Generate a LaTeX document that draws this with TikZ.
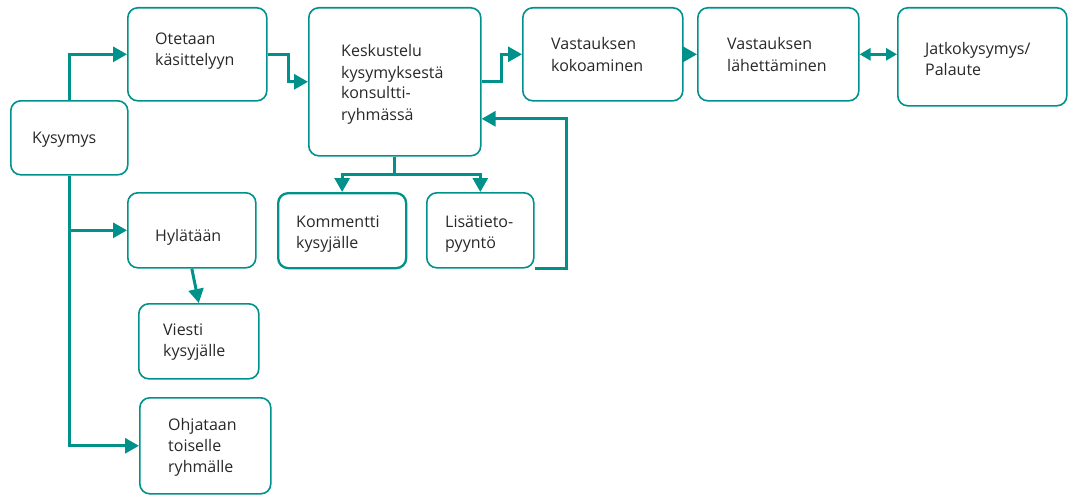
\documentclass[tikz,border=0pt]{standalone}
\usepackage{fontspec}
\setmainfont{Open Sans}
\usetikzlibrary{arrows.meta,calc}
\definecolor{teal}{RGB}{0,146,138}
\definecolor{txtgray}{RGB}{40,40,40}
\tikzset{
  box/.style={draw=teal, line width=1.6pt, rounded corners=10pt, inner sep=0pt, anchor=north west},
  boxthick/.style={box, line width=2.3pt},
  txt/.style={anchor=base west, inner sep=0pt, align=left, text=txtgray, font=\fontsize{16}{21}\selectfont},
  arr/.style={draw=teal, line width=3pt, -{Triangle[length=14pt,width=15pt]}},
  darr/.style={draw=teal, line width=3pt, {Triangle[length=11pt,width=12pt]}-{Triangle[length=11pt,width=12pt]}},
}
\begin{document}
\begin{tikzpicture}[x=1pt,y=-1pt]
\useasboundingbox (0,0) rectangle (1068,495);
% boxes
\node[box, minimum width=117pt, minimum height=74pt] (kys) at (10,100) {};
\node[box, minimum width=139pt, minimum height=93pt] (ote) at (127,7) {};
\node[box, minimum width=172pt, minimum height=148pt] (kes) at (308,7) {};
\node[box, minimum width=160pt, minimum height=93pt] (kok) at (522,7) {};
\node[box, minimum width=161pt, minimum height=93pt] (lah) at (697,7) {};
\node[box, minimum width=169pt, minimum height=98pt] (jat) at (897,7) {};
\node[boxthick, minimum width=128pt, minimum height=75pt] (kom) at (277,192) {};
\node[box, minimum width=107pt, minimum height=75pt] (lis) at (426,192) {};
\node[box, minimum width=128pt, minimum height=75pt] (hyl) at (127,192) {};
\node[box, minimum width=120pt, minimum height=75pt] (vie) at (138,303) {};
\node[box, minimum width=131pt, minimum height=96pt] (ohj) at (139,397) {};
% texts (base = baseline of last line)
\node[txt] (kys-t) at (32,143) {Kysymys};
\node[txt] (ote-t) at (155,66) {Otetaan\\käsittelyyn};
\node[txt] (kes-t) at (341,120) {Keskustelu\\kysymyksestä\\konsultti-\\ryhmässä};
\node[txt] (kok-t) at (551,71) {Vastauksen\\kokoaminen};
\node[txt] (lah-t) at (727,71) {Vastauksen\\lähettäminen};
\node[txt] (jat-t) at (925,76) {Jatkokysymys/\\Palaute};
\node[txt] (kom-t) at (296,248) {Kommentti\\kysyjälle};
\node[txt] (lis-t) at (445,248) {Lisätieto-\\pyyntö};
\node[txt] (hyl-t) at (155,241) {Hylätään};
\node[txt] (vie-t) at (163,356) {Viesti\\kysyjälle};
\node[txt] (ohj-t) at (168,472) {Ohjataan\\toiselle\\ryhmälle};
% connectors
\draw[arr] (kys.north) |- (ote.west);
\draw[arr] (kys.south) |- (ohj.west);
\draw[arr] (kys.south |- hyl.west) -- (hyl.west);
\draw[arr] (hyl.south) -- (vie.north);
\draw[arr] (ote.east) -- ++(21,0) |- (kes.west);
\draw[arr] (kes.east) -- ++(20,0) |- (kok.west);
\draw[arr] (kok.east) -- (lah.west);
\draw[darr] (lah.east) -- (lah.east -| jat.west);
\draw[arr] (kes.south) -- ++(0,18) -| (kom.north);
\draw[arr] (kes.south) -- ++(0,18) -| (lis.north);
\draw[arr] (lis.south east) -- ++(32,0) |- ([yshift=-37pt]kes.east);
\end{tikzpicture}
\end{document}
